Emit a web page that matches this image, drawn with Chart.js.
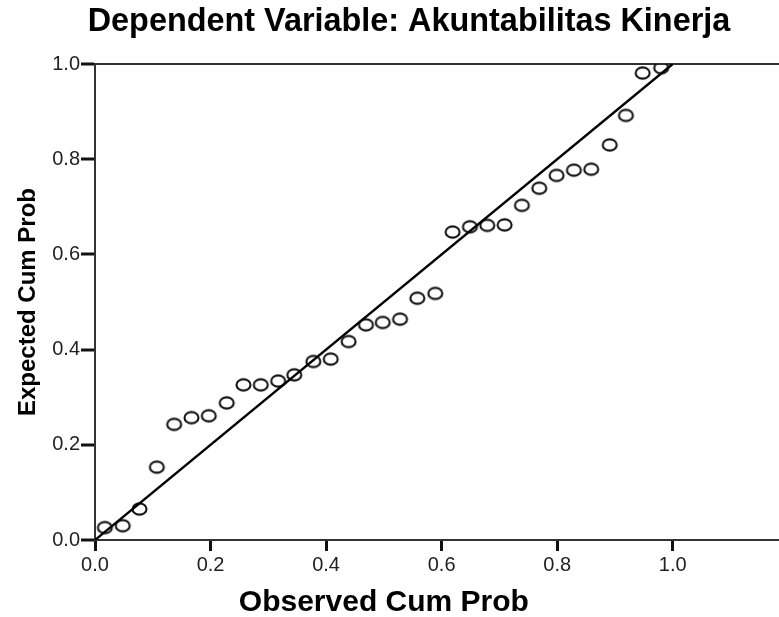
<!DOCTYPE html>
<html>
<head>
<meta charset="utf-8">
<script src="https://cdn.jsdelivr.net/npm/chart.js@4"></script>
<style>
  html, body { margin: 0; padding: 0; background: #fff; }
  #wrap { width: 779px; height: 617px; }
</style>
</head>
<body>
<div id="wrap"><canvas id="chart" width="779" height="617"></canvas></div>
<script>
// P-P plot values
const observedCumProb = [0.017, 0.048, 0.077, 0.107, 0.137, 0.167, 0.197, 0.228, 0.257, 0.287, 0.317,
  0.345, 0.378, 0.408, 0.439, 0.469, 0.498, 0.528, 0.558, 0.589, 0.619, 0.649, 0.679, 0.709, 0.739,
  0.769, 0.799, 0.829, 0.859, 0.891, 0.919, 0.948, 0.980]
const expectedCumProb = [0.026, 0.030, 0.065, 0.153, 0.243, 0.257, 0.261, 0.288, 0.326, 0.326, 0.334,
  0.347, 0.375, 0.380, 0.417, 0.452, 0.457, 0.464, 0.508, 0.518, 0.647, 0.658, 0.661, 0.662, 0.703,
  0.739, 0.766, 0.777, 0.779, 0.830, 0.892, 0.981, 0.992]
const refLineX = [0, 1]
const refLineY = [0, 1]
const tickValues = [0, 0.2, 0.4, 0.6, 0.8, 1.0]

const titleText = 'Dependent Variable: Akuntabilitas Kinerja'
const xTitle = 'Observed Cum Prob'
const yTitle = 'Expected Cum Prob'

const FONT = '"Liberation Sans", Arial, sans-serif'

// hollow ellipse marker
function ellipseMarker() {
  const c = document.createElement('canvas')
  c.width = 19
  c.height = 16
  const g = c.getContext('2d')
  g.strokeStyle = '#111'
  g.lineWidth = 2.1
  g.beginPath()
  g.ellipse(9.5, 8, 7, 5.6, 0, 0, Math.PI * 2)
  g.stroke()
  return c
}
const marker = ellipseMarker()

const points = observedCumProb.map((x, i) => ({ x: x, y: expectedCumProb[i] }))
const line = refLineX.map((x, i) => ({ x: x, y: refLineY[i] }))

const keepTicks = scale => {
  scale.ticks = scale.ticks.filter(t => tickValues.some(v => Math.abs(v - t.value) < 1e-6))
}

// chart title and x title, centred over the 0..1 part of the x axis like the original
const texts = {
  id: 'texts',
  afterDraw(chart) {
    const ctx = chart.ctx
    const x = chart.scales.x
    ctx.save()
    ctx.fillStyle = '#000'
    ctx.textAlign = 'center'
    ctx.textBaseline = 'middle'
    ctx.font = 'bold 32.4px ' + FONT
    ctx.fillText(titleText, 409, 22)
    ctx.font = 'bold 30px ' + FONT
    ctx.fillText(xTitle, (x.getPixelForValue(0) + x.getPixelForValue(1)) / 2, 603)
    ctx.restore()
  },
}

Chart.defaults.font.family = FONT
Chart.defaults.color = '#222'

new Chart(document.getElementById('chart').getContext('2d'), {
  type: 'scatter',
  data: {
    datasets: [
      {
        type: 'line',
        data: line,
        borderColor: '#000',
        borderWidth: 2.4,
        pointRadius: 0,
        fill: false,
      },
      {
        data: points,
        pointStyle: marker,
        pointRadius: 7,
        backgroundColor: 'transparent',
        borderColor: '#111',
      },
    ],
  },
  plugins: [texts],
  options: {
    responsive: false,
    animation: false,
    layout: { autoPadding: false, padding: { left: 0, right: 0, top: 64, bottom: 0 } },
    plugins: {
      legend: { display: false },
      tooltip: { enabled: false },
    },
    scales: {
      x: {
        type: 'linear',
        min: 0,
        max: 1.184,
        afterBuildTicks: keepTicks,
        afterFit: s => { s.height = 77; s.paddingRight = 0; s.paddingLeft = 0 },
        border: { color: '#333', width: 2 },
        grid: { drawOnChartArea: false, tickLength: 11, tickWidth: 3, tickColor: '#111' },
        ticks: { stepSize: 0.2, padding: 2, font: { size: 20 }, callback: v => v.toFixed(1) },
      },
      y: {
        type: 'linear',
        min: 0,
        max: 1,
        afterBuildTicks: keepTicks,
        afterFit: s => { s.width = 95; s.paddingTop = 0; s.paddingBottom = 0 },
        border: { color: '#333', width: 2 },
        grid: {
          color: ctx => (ctx.tick && ctx.tick.value === 1 ? '#333' : 'transparent'),
          lineWidth: 2,
          tickLength: 14,
          tickWidth: 3,
          tickColor: '#111',
        },
        ticks: { stepSize: 0.2, padding: 1, font: { size: 20 }, callback: v => v.toFixed(1) },
        title: {
          display: true,
          text: yTitle,
          color: '#000',
          font: { size: 24, weight: 'bold' },
          padding: { top: 14, bottom: 0 },
        },
      },
    },
  },
})
</script>
</body>
</html>
